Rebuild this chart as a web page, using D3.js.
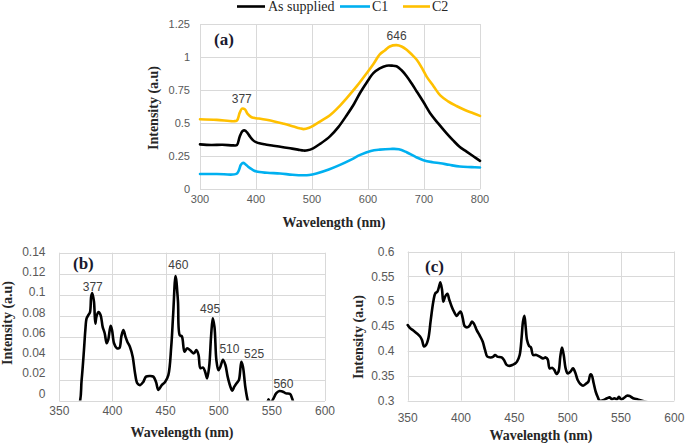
<!DOCTYPE html>
<html><head><meta charset="utf-8">
<script src="https://cdn.jsdelivr.net/npm/d3@7"></script>
<style>body{margin:0;background:#fff}svg{display:block}</style>
</head><body>
<svg id="chart" width="685" height="444"></svg>
<script>
// ---------- DATA ----------
// Panel (a)
const aTicksX = [300, 400, 500, 600, 700, 800];
const aTicksY = [0, 0.25, 0.5, 0.75, 1, 1.25];
const aTickLabelsY = ["0", "0.25", "0.5", "0.75", "1", "1.25"];
const seriesNames = ["As supplied", "C1", "C2"];
const asSuppliedX = [300,320,340,360,366,371,376,380,384,389,395,401,415,431,446,461,475,485,492,502,515,532,547,562,575,586,598,610,621,633,643,651,660,669,678,687,699,711,725,740,752,764,776,788,800];
const asSuppliedY = [0.34,0.335,0.337,0.332,0.335,0.40,0.44,0.445,0.43,0.40,0.37,0.355,0.34,0.33,0.32,0.31,0.30,0.293,0.295,0.31,0.345,0.40,0.47,0.56,0.645,0.73,0.81,0.88,0.915,0.935,0.935,0.93,0.90,0.855,0.80,0.74,0.66,0.575,0.50,0.425,0.37,0.32,0.285,0.25,0.215];
const c1X = [300,330,365,369,373,377,381,386,393,401,420,443,465,485,495,508,530,550,570,586,605,621,640,655,669,685,699,715,729,745,764,785,800];
const c1Y = [0.116,0.116,0.116,0.14,0.185,0.20,0.19,0.17,0.15,0.134,0.125,0.12,0.11,0.106,0.108,0.12,0.15,0.185,0.225,0.26,0.29,0.30,0.305,0.303,0.28,0.245,0.22,0.205,0.197,0.185,0.172,0.168,0.165];
const c2X = [300,330,360,366,371,375,380,385,392,405,431,450,467,478,485,495,502,517,532,547,562,580,598,610,621,630,639,651,660,669,678,687,696,705,717,729,743,758,773,788,800];
const c2Y = [0.53,0.525,0.515,0.52,0.58,0.61,0.605,0.57,0.545,0.535,0.515,0.495,0.475,0.462,0.455,0.465,0.48,0.52,0.56,0.62,0.69,0.78,0.88,0.95,1.02,1.05,1.08,1.09,1.08,1.055,1.02,0.98,0.92,0.85,0.78,0.71,0.665,0.63,0.60,0.575,0.555];
const aPeakLabels = ["377", "646"];
const aPeakX = [374.5, 651];
const aPeakY = [0.653, 1.13];

// Panel (b)
const bTicksX = [350, 400, 450, 500, 550, 600];
const bTicksY = [0, 0.02, 0.04, 0.06, 0.08, 0.1, 0.12, 0.14];
const bTickLabelsY = ["0", "0.02", "0.04", "0.06", "0.08", "0.1", "0.12", "0.14"];
const bX = [350,368,371,373.2,374.5,375.7,377.3,378.9,380,381,382.6,383.9,385,387,388.9,390.8,392.7,394.6,396,398.3,399.6,401.5,404,406.5,408.4,410.3,412.2,414,416.5,419,421.3,423.4,426,429,431.6,435.4,438.5,441,443.2,446.4,449.5,452.6,455.3,457.2,459.4,461.6,463.4,465.3,467.8,470.3,473.4,476.6,479,481,482.8,485.3,487.2,489,491,492.8,494.4,496,497.8,499.7,501.6,504,506.3,508.4,511,512.8,514.7,517.2,519,521.3,522.8,525,527.2,530,540,545,546.9,548.5,551.6,554,557.2,560.3,563.4,567.2,569,572,600];
const bY = [-0.03,-0.006,0.0198,0.048,0.067,0.078,0.081,0.084,0.0986,0.102,0.094,0.073,0.08,0.084,0.081,0.070,0.064,0.0545,0.0576,0.071,0.067,0.0545,0.050,0.050,0.061,0.067,0.061,0.056,0.051,0.042,0.026,0.0167,0.015,0.018,0.023,0.0236,0.023,0.018,0.0104,0.015,0.018,0.0245,0.051,0.083,0.118,0.095,0.062,0.061,0.0466,0.0498,0.0476,0.045,0.048,0.0435,0.031,0.0315,0.0277,0.0214,0.0324,0.061,0.078,0.070,0.0387,0.029,0.0324,0.039,0.034,0.023,0.0135,0.0098,0.0135,0.0173,0.0198,0.037,0.0324,0.0135,0.001,-0.008,-0.01,-0.004,0.0016,-0.002,0.0025,0.0072,0.0094,0.0088,0.0072,0.0066,0.0025,-0.005,-0.03];
const bPeakLabels = ["377", "460", "495", "510", "525", "560"];
const bPeakX = [381.5, 462, 491.9, 510.1, 533.3, 560.9];
const bPeakY = [0.1038, 0.1245, 0.0835, 0.0453, 0.041, 0.0123];

// Panel (c)
const cTicksX = [350, 400, 450, 500, 550, 600];
const cTicksY = [0.3, 0.35, 0.4, 0.45, 0.5, 0.55, 0.6];
const cTickLabelsY = ["0.3", "0.35", "0.4", "0.45", "0.5", "0.55", "0.6"];
const cX = [350,352.2,355.3,358.4,361.6,363.4,365.3,367.2,369.4,371.6,374,375.9,377.8,379.4,380.6,382.2,383.4,385,387.2,389,391.3,393.4,396,398,399.7,401.6,403.4,406,408.4,410.3,412.2,414.7,417.8,420.3,422.5,424.7,427.8,430.3,431.9,434,438.1,440.3,442.8,445.3,448.4,450.9,452.5,455,456.9,458.1,459.4,460.6,461.9,463.8,465.6,467.5,470.6,473.8,476.9,479.4,481.3,483.1,485.6,487.5,489.4,491.3,493.1,494.7,496.3,498.1,500,502.5,505,507.2,509.4,511.9,514.4,516.9,519.4,521.3,522.5,524.4,526.3,528.1,530,533,537,539.4,541.6,543.8,546.3,548.1,550,552.5,555.6,558.1,561.3,564.4,568.1,570,575,600];
const cY = [0.452,0.446,0.441,0.4356,0.429,0.422,0.409,0.412,0.4255,0.462,0.499,0.516,0.519,0.5295,0.538,0.523,0.499,0.509,0.515,0.503,0.489,0.479,0.4705,0.476,0.479,0.466,0.450,0.4476,0.452,0.459,0.4544,0.442,0.430,0.419,0.402,0.3886,0.387,0.3886,0.392,0.3886,0.387,0.382,0.372,0.370,0.372,0.375,0.3785,0.392,0.429,0.459,0.4705,0.449,0.422,0.410,0.407,0.392,0.392,0.3886,0.385,0.387,0.383,0.365,0.366,0.362,0.354,0.358,0.3886,0.407,0.392,0.365,0.355,0.358,0.365,0.356,0.3416,0.3336,0.330,0.3336,0.338,0.353,0.3517,0.335,0.318,0.308,0.300,0.301,0.305,0.3067,0.3027,0.305,0.3027,0.308,0.3027,0.305,0.310,0.3094,0.305,0.3034,0.301,0.300,0.297,0.29];

// ---------- DRAWING ----------
const svg = d3.select("#chart");
const gridColor = "#d9d9d9";
const tickColor = "#595959";
const sans = "'Liberation Sans', Arial, sans-serif";
const serif = "'Liberation Serif', 'Times New Roman', serif";

let clipId = 0;
function panel(cfg) {
  const x = d3.scaleLinear().domain(cfg.xDomain).range([cfg.left, cfg.right]);
  const y = d3.scaleLinear().domain(cfg.yDomain).range([cfg.bottom, cfg.top]);
  const g = svg.append("g");
  // grid
  g.append("g").selectAll("line").data(cfg.ticksY).join("line")
    .attr("x1", cfg.left).attr("x2", cfg.right)
    .attr("y1", d => Math.round(y(d)) + 0.5).attr("y2", d => Math.round(y(d)) + 0.5)
    .attr("stroke", gridColor).attr("stroke-width", 1);
  g.append("g").selectAll("line").data(cfg.ticksX).join("line")
    .attr("y1", cfg.top).attr("y2", cfg.bottom)
    .attr("x1", d => Math.round(x(d)) + 0.5).attr("x2", d => Math.round(x(d)) + 0.5)
    .attr("stroke", gridColor).attr("stroke-width", 1);
  // y tick labels
  const yl = cfg.yLabelRange ? d3.scaleLinear().domain(cfg.yDomain).range(cfg.yLabelRange) : y;
  g.append("g").selectAll("text").data(cfg.ticksY).join("text")
    .attr("x", cfg.yLabelX).attr("y", d => yl(d)).attr("dy", "0.35em")
    .attr("text-anchor", "end").attr("font-family", sans).attr("font-size", cfg.tickSize)
    .attr("fill", tickColor).text((d, i) => cfg.yLabels[i]);
  // x tick labels
  g.append("g").selectAll("text").data(cfg.ticksX).join("text")
    .attr("x", d => x(d)).attr("y", cfg.xLabelY).attr("dy", "0.35em")
    .attr("text-anchor", "middle").attr("font-family", sans).attr("font-size", cfg.tickSize)
    .attr("fill", tickColor).text(d => d);
  // titles
  g.append("text").attr("x", cfg.xTitle[0]).attr("y", cfg.xTitle[1]).attr("dy", "0.35em")
    .attr("text-anchor", "middle").attr("font-family", serif).attr("font-weight", "bold")
    .attr("font-size", 14).attr("fill", "#262626").text("Wavelength (nm)");
  g.append("text").attr("transform", `translate(${cfg.yTitle[0]},${cfg.yTitle[1]}) rotate(-90)`)
    .attr("dy", "0.35em").attr("text-anchor", "middle").attr("font-family", serif)
    .attr("font-weight", "bold").attr("font-size", 14).attr("fill", "#262626").text("Intensity (a.u)");
  // panel letter
  g.append("text").attr("x", cfg.letterPos[0]).attr("y", cfg.letterPos[1])
    .attr("font-family", serif).attr("font-weight", "bold").attr("font-size", 17)
    .attr("fill", "#1a1a2e").text(cfg.letter);
  // clip
  const id = "clip" + (clipId++);
  svg.append("clipPath").attr("id", id).append("rect")
    .attr("x", cfg.left - 2).attr("y", cfg.top - 2)
    .attr("width", cfg.right - cfg.left + 4).attr("height", cfg.bottom - cfg.top + 1.5);
  const line = d3.line().x(d => x(d[0])).y(d => y(d[1])).curve(d3.curveCatmullRom.alpha(0.5));
  const lg = g.append("g").attr("clip-path", `url(#${id})`);
  cfg.series.forEach(s => {
    lg.append("path").datum(s.xs.map((v, i) => [v, s.ys[i]]))
      .attr("d", line).attr("fill", "none").attr("stroke", s.color)
      .attr("stroke-width", 2.6).attr("stroke-linejoin", "round").attr("stroke-linecap", "round");
  });
  // peak labels
  g.append("g").selectAll("text").data(cfg.peaks.labels).join("text")
    .attr("x", (d, i) => x(cfg.peaks.xs[i])).attr("y", (d, i) => y(cfg.peaks.ys[i]))
    .attr("text-anchor", "middle").attr("font-family", sans).attr("font-size", 12)
    .attr("fill", "#404040").text(d => d);
  return {x, y};
}

const colors = ["#000000", "#00b0f0", "#ffc000"];

panel({
  xDomain: [300, 800], yDomain: [0, 1.25],
  left: 200, right: 480, top: 24, bottom: 189.3,
  ticksX: aTicksX, ticksY: aTicksY, yLabels: aTickLabelsY,
  tickSize: 11, yLabelX: 190, xLabelY: 199.5,
  xTitle: [334, 222], yTitle: [153, 108],
  letter: "(a)", letterPos: [214, 45],
  series: [
    {xs: c1X, ys: c1Y, color: colors[1]},
    {xs: c2X, ys: c2Y, color: colors[2]},
    {xs: asSuppliedX, ys: asSuppliedY, color: colors[0]}
  ],
  peaks: {labels: aPeakLabels, xs: aPeakX, ys: aPeakY}
});

panel({
  xDomain: [350, 600], yDomain: [0, 0.14],
  left: 59.3, right: 325, top: 252.7, bottom: 401,
  ticksX: bTicksX, ticksY: bTicksY, yLabels: bTickLabelsY,
  yLabelRange: [393.5, 251.7],
  tickSize: 12, yLabelX: 45.5, xLabelY: 411,
  xTitle: [182, 432], yTitle: [7, 323],
  letter: "(b)", letterPos: [73, 269],
  series: [{xs: bX, ys: bY, color: "#000"}],
  peaks: {labels: bPeakLabels, xs: bPeakX, ys: bPeakY}
});

panel({
  xDomain: [350, 600], yDomain: [0.3, 0.6],
  left: 407.7, right: 674.3, top: 251.5, bottom: 400.7,
  ticksX: cTicksX, ticksY: cTicksY, yLabels: cTickLabelsY,
  tickSize: 12, yLabelX: 394.5, xLabelY: 417.7,
  xTitle: [541, 435.5], yTitle: [358, 337],
  letter: "(c)", letterPos: [425, 272],
  series: [{xs: cX, ys: cY, color: "#000"}],
  peaks: {labels: [], xs: [], ys: []}
});

// legend
const legendX1 = [237, 340, 403];
const legendX2 = [265, 370, 430];
const legendTextX = [268, 372, 432];
const lgd = svg.append("g");
seriesNames.forEach((name, i) => {
  lgd.append("line").attr("x1", legendX1[i]).attr("x2", legendX2[i]).attr("y1", 6.5).attr("y2", 6.5)
    .attr("stroke", colors[i]).attr("stroke-width", 2.6);
  lgd.append("text").attr("x", legendTextX[i]).attr("y", 11).attr("font-family", serif)
    .attr("font-size", 14).attr("fill", "#262626").text(name);
});
</script>
</body></html>
